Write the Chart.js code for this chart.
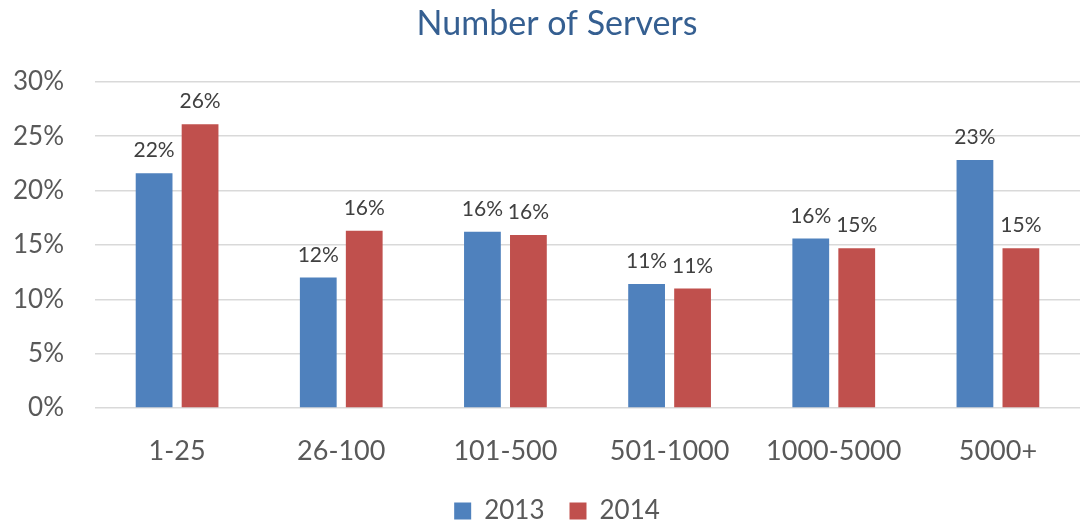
<!DOCTYPE html>
<html>
<head>
<meta charset="utf-8">
<script src="https://cdn.jsdelivr.net/npm/chart.js@4"></script>
<style>
  html, body { margin: 0; padding: 0; background: #fff; }
  #wrap { width: 1080px; height: 524px; }
</style>
</head>
<body>
<div id="wrap"><canvas id="myChart"></canvas></div>
<script>
// server count buckets and share of respondents (%)
var categories = ["1-25", "26-100", "101-500", "501-1000", "1000-5000", "5000+"];
var seriesNames = ["2013", "2014"];
var values2013 = [21.6, 12.0, 16.2, 11.4, 15.6, 22.8];
var values2014 = [26.1, 16.3, 15.9, 11.0, 14.7, 14.7];
var yTicks = [0, 5, 10, 15, 20, 25, 30];
var barColors = ["#4F81BD", "#C0504D"];

var fontName = "Lato, 'Open Sans', sans-serif";

// draw the rounded % value above each bar
var valueLabels = {
  id: "valueLabels",
  afterDatasetsDraw: function (chart) {
    var ctx = chart.ctx;
    ctx.save();
    ctx.font = "21px " + fontName;
    ctx.fillStyle = "#404040";
    ctx.textAlign = "center";
    ctx.textBaseline = "bottom";
    chart.data.datasets.forEach(function (ds, i) {
      chart.getDatasetMeta(i).data.forEach(function (bar, j) {
        ctx.fillText(Math.round(ds.data[j]) + "%", bar.x, bar.y - 12);
      });
    });
    ctx.restore();
  }
};

new Chart("myChart", {
  type: "bar",
  data: {
    labels: categories,
    datasets: [
      { label: seriesNames[0], data: values2013, backgroundColor: barColors[0] },
      { label: seriesNames[1], data: values2014, backgroundColor: barColors[1] }
    ]
  },
  plugins: [valueLabels],
  options: {
    responsive: true,
    maintainAspectRatio: false,
    animation: false,
    layout: { padding: { left: 34, right: 0, top: 4, bottom: -10 } },
    datasets: {
      bar: { categoryPercentage: 0.56, barPercentage: 0.8 }
    },
    scales: {
      x: {
        grid: { display: false },
        border: { display: false },
        afterFit: function (scale) { scale.height = 65; },
        ticks: { color: "#595959", font: { family: fontName, size: 27 }, padding: 19 }
      },
      y: {
        min: 0,
        max: 30,
        afterBuildTicks: function (scale) {
          scale.ticks = yTicks.map(function (v) { return { value: v }; });
        },
        afterFit: function (scale) {
          scale.width = 61;
          // let the tick labels run into the left padding
          scale._computeLabelArea = function () { return null; };
        },
        grid: { color: "#D9D9D9", lineWidth: 1.5, drawTicks: false },
        border: { display: false },
        ticks: {
          color: "#595959",
          font: { family: fontName, size: 26 },
          padding: 31,
          callback: function (v) { return v + "%"; }
        }
      }
    },
    plugins: {
      title: {
        display: true,
        text: "Number of Servers",
        color: "#355F91",
        font: { family: fontName, size: 34, weight: "normal" },
        padding: { top: 0, bottom: 37 }
      },
      legend: {
        position: "bottom",
        labels: {
          color: "#595959",
          font: { family: fontName, size: 26 },
          boxWidth: 17,
          boxHeight: 17,
          padding: 25
        }
      },
      tooltip: { enabled: false }
    }
  }
});
</script>
</body>
</html>
